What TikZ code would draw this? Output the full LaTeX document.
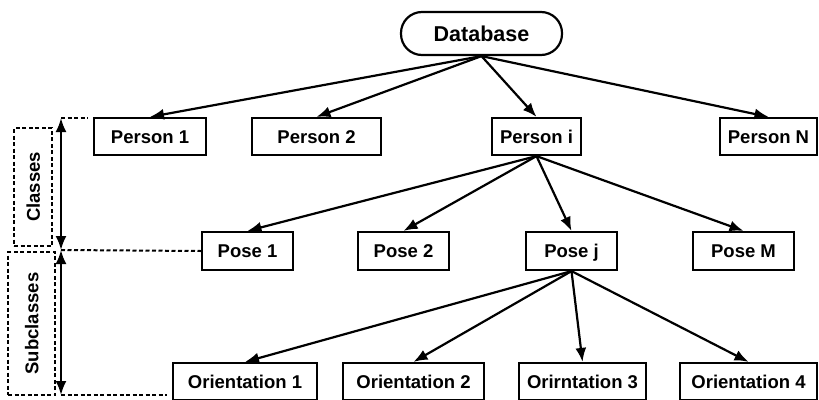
\documentclass[tikz,border=0pt]{standalone}
\usepackage{fontspec}
\setmainfont{Liberation Sans}
\usepackage{tikz}
\usetikzlibrary{positioning,arrows.meta,shapes}

\begin{document}
\begin{tikzpicture}[x=1pt,y=1pt]
\tikzstyle{every node}+=[inner sep=0pt,font=\bfseries\fontsize{18.5}{20}\selectfont]
\tikzstyle{box}=[draw,line width=2.2pt,minimum height=37pt,text height=13.5pt,text depth=0pt]
\tikzstyle{link}=[line width=2.2pt,-{Latex[length=14pt,width=11pt]}]
\tikzstyle{span}=[line width=2.2pt,{Latex[length=14pt,width=11pt]}-{Latex[length=14pt,width=11pt]}]
\tikzstyle{guide}=[line width=2pt,dash pattern=on 4pt off 2.5pt]
\useasboundingbox (0,0) rectangle (819,-399);
\node [draw,line width=2.2pt,rounded corners=21pt,minimum width=161pt,minimum height=43pt,text height=15.5pt,text depth=0pt,font=\bfseries\fontsize{21.5}{24}\selectfont] (db) at (481.5,-33.5) {Database};
\node [box,minimum width=112pt] (p1) at (150,-136.5) {Person 1};
\node [box,minimum width=129pt] (p2) at (316.5,-136.5) {Person 2};
\node [box,minimum width=89pt] (pi) at (536.5,-136.5) {Person i};
\node [box,minimum width=97pt] (pn) at (768.5,-136.5) {Person N};
\node [box,minimum width=91pt,minimum height=38pt] (s1) at (247.5,-251) {Pose 1};
\node [box,minimum width=91pt,minimum height=38pt] (s2) at (403.5,-251) {Pose 2};
\node [box,minimum width=91pt,minimum height=38pt] (sj) at (571.5,-251) {Pose j};
\node [box,minimum width=101pt,minimum height=38pt] (sm) at (743.5,-251) {Pose M};
\node [box,minimum width=144pt] (o1) at (245,-381.5) {Orientation 1};
\node [box,minimum width=141pt] (o2) at (413.5,-381.5) {Orientation 2};
\node [box,minimum width=127pt] (o3) at (582.5,-381.5) {Orirntation 3};
\node [box,minimum width=137pt] (o4) at (748.5,-381.5) {Orientation 4};
\draw [link] (db.south) -- (p1.north);
\draw [link] (db.south) -- (p2.north);
\draw [link] (db.south) -- (pi.north);
\draw [link] (db.south) -- (pn.north);
\draw [link] (pi.south) -- (s1.north);
\draw [link] (pi.south) -- (s2.north);
\draw [link] (pi.south) -- (sj.north);
\draw [link] (pi.south) -- (sm.north);
\draw [link] (sj.south) -- (o1.north);
\draw [link] (sj.south) -- (o2.north);
\draw [link] (sj.south) -- (o3.north);
\draw [link] (sj.south) -- (o4.north);
\coordinate (top) at (61,-118);
\coordinate (mid) at (61,-250);
\coordinate (bot) at (61,-395);
\coordinate (topend) at (88,-118);
\coordinate (botend) at (167,-395);
\draw [span] (top) -- (mid);
\draw [span] (mid) -- (bot);
\draw [guide] (top) -- (topend);
\draw [guide] (mid) -- (s1.west);
\draw [guide] (bot) -- (botend);
\node [guide,draw,minimum width=38pt,minimum height=118pt] (cls) at (33,-187) {};
\node [rotate=90,text height=13.5pt,text depth=0pt] at (cls.center) {Classes};
\node [guide,draw,minimum width=47pt,minimum height=143pt] (sub) at (31.5,-323.5) {};
\node [rotate=90,text height=13.5pt,text depth=0pt] at (sub.center) {Subclasses};
\end{tikzpicture}
\end{document}
